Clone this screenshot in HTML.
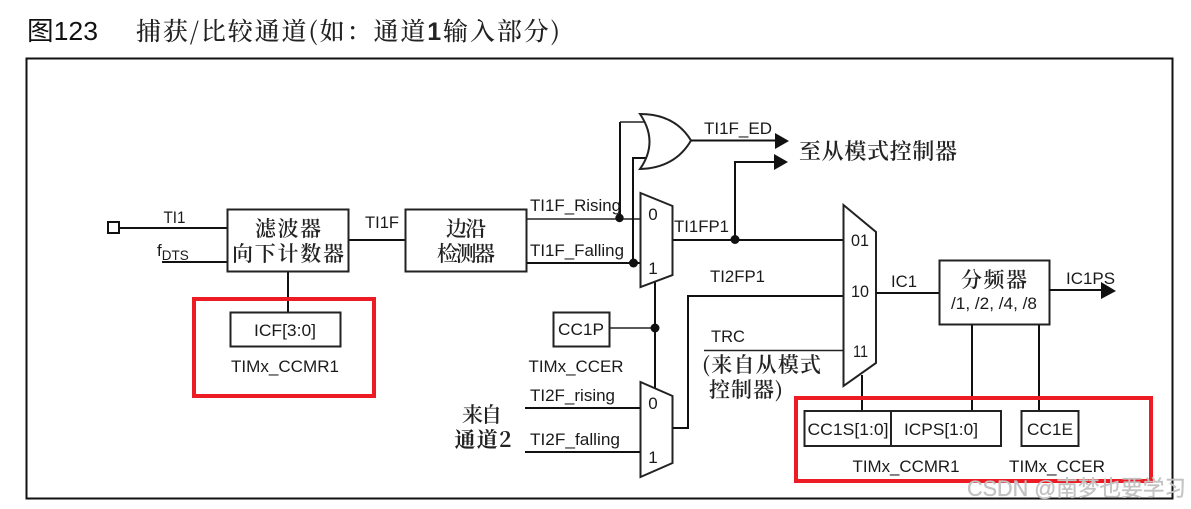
<!DOCTYPE html>
<html>
<head>
<meta charset="utf-8">
<style>
html,body{margin:0;padding:0;background:#fff;width:1191px;height:509px;overflow:hidden}
svg{display:block;filter:blur(.35px)}
text{font-family:"Liberation Sans","Noto Sans CJK SC",sans-serif;font-size:16.5px;fill:#1a1a1a}
.c{text-anchor:middle}
.z{font-family:"Noto Serif CJK SC","Liberation Serif",serif;font-size:21px;font-weight:600;fill:#222}
.l{fill:none;stroke:#111;stroke-width:2}
.t{fill:none;stroke:#222;stroke-width:1.6}
.b{fill:#fff;stroke:#222;stroke-width:2}
.r{fill:none;stroke:#ed1c24;stroke-width:4}
</style>
</head>
<body>
<svg width="1191" height="509" viewBox="0 0 1191 509" xmlns="http://www.w3.org/2000/svg">
<rect width="1191" height="509" fill="#fff"/>

<text x="27" y="40" textLength="71" lengthAdjust="spacingAndGlyphs" style="font-size:26px;fill:#111">图123</text>
<text x="136" y="40" textLength="424" style="font-family:'Noto Serif CJK SC','Liberation Serif',serif;font-size:25px;font-weight:500;fill:#222">捕获/比较通道(如：通道<tspan style="font-family:'Liberation Sans';font-weight:700">1</tspan>输入部分)</text>

<rect x="26.5" y="58.5" width="1146" height="440" fill="none" stroke="#111" stroke-width="2"/>

<!-- input -->
<rect x="108" y="222" width="11" height="11" fill="#fff" stroke="#111" stroke-width="2"/>
<path class="l" d="M119 228H227"/>
<path class="l" d="M162 262H227"/>
<path class="l" d="M349 240H405"/>
<path class="l" d="M288 272V312"/>

<rect class="b" x="227.5" y="209.5" width="121" height="62"/>
<rect class="b" x="405.5" y="209.5" width="121" height="62"/>
<rect class="b" x="230.5" y="312.5" width="110" height="34"/>

<text class="c" x="174.500" y="223" textLength="22" lengthAdjust="spacingAndGlyphs">TI1</text>
<text x="157" y="256" style="font-size:17px">f<tspan dy="4" style="font-size:13.500px">DTS</tspan></text>
<text class="c" x="382" y="228" textLength="34" lengthAdjust="spacingAndGlyphs">TI1F</text>

<text class="z c" x="288" y="236" textLength="66">滤波器</text>
<text class="z c" x="288" y="261" textLength="112">向下计数器</text>
<text class="z c" x="466" y="236" textLength="40">边沿</text>
<text class="z c" x="466" y="261" textLength="58">检测器</text>

<text class="c" x="285" y="336" textLength="62" lengthAdjust="spacingAndGlyphs">ICF[3:0]</text>
<text class="c" x="285" y="372" textLength="108" lengthAdjust="spacingAndGlyphs">TIMx_CCMR1</text>
<rect class="r" x="194" y="299" width="180" height="97"/>

<!-- edge outputs -->
<path class="t" d="M527 219H640"/>
<path class="l" d="M527 263H640"/>
<text x="530" y="211" textLength="91" lengthAdjust="spacingAndGlyphs">TI1F_Rising</text>
<text x="530" y="256" textLength="94" lengthAdjust="spacingAndGlyphs">TI1F_Falling</text>

<path class="l" d="M620 218V122"/>
<path class="t" d="M620 122H647"/>
<path class="l" d="M633 263V158H650"/>
<circle cx="619.500" cy="218" r="4.200" fill="#111"/>
<circle cx="633.500" cy="263" r="4.500" fill="#111"/>

<!-- OR gate -->
<path d="M640 114Q675 114 691 140.500Q675 168 640 169Q659 142 640 114Z" fill="#fff" stroke="#222" stroke-width="2"/>
<path class="l" d="M691 140.500H775"/>
<path d="M775 133L789 141L775 149Z" fill="#111"/>
<text x="704" y="134" textLength="68" lengthAdjust="spacingAndGlyphs">TI1F_ED</text>

<path class="l" d="M735 240V162H775"/>
<path d="M774 154L788 162L774 170Z" fill="#111"/>
<text class="z" x="799" y="159" textLength="158" style="font-size:22px">至从模式控制器</text>

<!-- mux1 -->
<path class="l" d="M655 278V388"/>
<path class="b" d="M640.500 193L672.500 206V275L640.500 287Z"/>
<text class="c" x="653" y="220" style="font-size:17px">0</text>
<text class="c" x="653" y="274" style="font-size:17px">1</text>
<text x="674" y="232" textLength="55" lengthAdjust="spacingAndGlyphs">TI1FP1</text>
<path class="l" d="M673 240H844"/>
<circle cx="735" cy="239.500" r="4.500" fill="#111"/>

<!-- CC1P -->
<rect class="b" x="553.500" y="312.500" width="56" height="34"/>
<text class="c" x="581" y="335" textLength="46" lengthAdjust="spacingAndGlyphs">CC1P</text>
<path class="t" d="M610 328H655"/>
<circle cx="655" cy="328" r="4.500" fill="#111"/>
<text class="c" x="576" y="372" textLength="95" lengthAdjust="spacingAndGlyphs">TIMx_CCER</text>

<!-- mux3 -->
<path class="b" d="M640.500 382L672.500 396V463L640.500 477Z"/>
<text class="c" x="653" y="409" style="font-size:17px">0</text>
<text class="c" x="653" y="463" style="font-size:17px">1</text>
<path class="l" d="M525 408H640"/>
<path class="l" d="M525 452H640"/>
<text x="530" y="401" textLength="85" lengthAdjust="spacingAndGlyphs">TI2F_rising</text>
<text x="530" y="445" textLength="90" lengthAdjust="spacingAndGlyphs">TI2F_falling</text>
<text class="z c" x="482" y="422" textLength="40">来自</text>
<text class="z c" x="483" y="447" textLength="57" style="font-weight:700">通道2</text>

<path class="l" d="M673 428H688V296H843"/>
<text x="710" y="282" textLength="55" lengthAdjust="spacingAndGlyphs">TI2FP1</text>

<path class="t" d="M704 350.500H843"/>
<text x="711" y="342" textLength="34" lengthAdjust="spacingAndGlyphs">TRC</text>
<text class="z" x="702" y="372" textLength="119">(来自从模式</text>
<text class="z" x="709" y="397" textLength="74">控制器)</text>

<!-- mux2 -->
<path class="l" d="M862 375V411"/>
<path class="b" d="M843.500 205L876 232V363L843.500 386Z"/>
<text x="851" y="246" textLength="18" lengthAdjust="spacingAndGlyphs" style="font-size:17px">01</text>
<text x="851" y="297" textLength="18" lengthAdjust="spacingAndGlyphs" style="font-size:17px">10</text>
<text x="853" y="357" textLength="15" lengthAdjust="spacingAndGlyphs" style="font-size:17px">11</text>

<path class="l" d="M876 293H940"/>
<text x="891" y="287" textLength="26" lengthAdjust="spacingAndGlyphs">IC1</text>

<rect class="b" x="939.500" y="260.500" width="110" height="64"/>
<text class="z c" x="994" y="287" textLength="66">分频器</text>
<text class="c" x="994" y="309" textLength="86" lengthAdjust="spacingAndGlyphs">/1, /2, /4, /8</text>
<path class="l" d="M1049 290H1101"/>
<path d="M1101 282L1116 291L1101 299Z" fill="#111"/>
<text x="1066" y="284" textLength="49" lengthAdjust="spacingAndGlyphs">IC1PS</text>

<path class="l" d="M972 325V411"/>
<path class="l" d="M1039 325V411"/>

<rect class="b" x="804.500" y="411" width="86.500" height="35"/>
<rect class="b" x="891" y="411" width="110" height="35"/>
<rect class="b" x="1021.500" y="411" width="57" height="35"/>
<text class="c" x="848" y="435" textLength="81" lengthAdjust="spacingAndGlyphs">CC1S[1:0]</text>
<text class="c" x="941" y="435" textLength="74" lengthAdjust="spacingAndGlyphs">ICPS[1:0]</text>
<text class="c" x="1050" y="435" textLength="46" lengthAdjust="spacingAndGlyphs">CC1E</text>
<text class="c" x="906" y="472" textLength="107" lengthAdjust="spacingAndGlyphs">TIMx_CCMR1</text>
<text class="c" x="1057" y="472" textLength="96" lengthAdjust="spacingAndGlyphs">TIMx_CCER</text>
<rect class="r" x="796" y="398" width="355" height="83"/>

<text x="967" y="496" textLength="219" lengthAdjust="spacingAndGlyphs" style="font-size:22px;fill:#c4c4c4;stroke:#bbb;stroke-width:.3">CSDN @南梦也要学习</text>
</svg>
</body>
</html>
